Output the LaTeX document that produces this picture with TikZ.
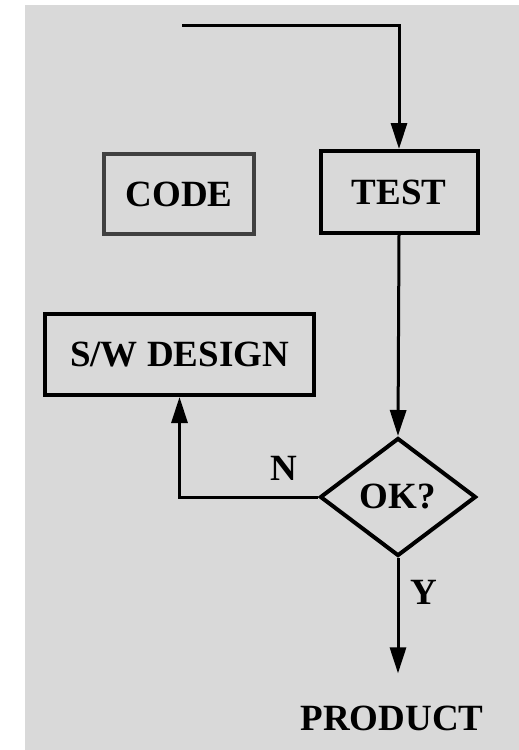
\documentclass[tikz,border=0pt]{standalone}
\usepackage{fontspec}
\setmainfont{Liberation Serif}
\usetikzlibrary{shapes.geometric,arrows.meta,positioning}

\begin{document}
\begin{tikzpicture}[
    x=1pt,
    y=-1pt,
    font=\fontsize{37}{40}\selectfont\bfseries,
    block/.style={
        rectangle,
        draw,
        line width=4pt,
        inner sep=0pt,
        text centered
    },
    decision/.style={
        diamond,
        draw,
        line width=4pt,
        inner sep=0pt,
        minimum width=156pt,
        minimum height=118pt
    },
    lbl/.style={
        inner sep=0pt
    },
    flow/.style={
        draw,
        line width=3pt,
        -{Triangle[length=26pt,width=16pt]}
    }
]

% Background
\useasboundingbox (0,0) rectangle (519,750);
\fill[gray!30] (25,5) rectangle (519,750);

% Nodes
\node [block, draw=black!75, minimum width=150pt, minimum height=80pt] (code) at (179,194) {CODE};
\node [block, minimum width=157pt, minimum height=82pt] (test) at (399,192) {TEST};
\node [block, minimum width=269pt, minimum height=81pt] (design) at (179.5,354.5) {S/W DESIGN};
\node [decision] (ok) at (398,497) {OK?};
\node [lbl] (product) at (392,718) {PRODUCT};
\coordinate (entry) at (182,25);

% Edges
\path [flow] (entry) -| (test.north);
\path [flow] (test.south) -- (ok.north);
\path [flow] (ok.west) -- node [lbl, above=15pt, pos=0.25] {N} (ok.west -| design.south) -- (design.south);
\path [flow, shorten >=32pt] (ok.south) -- node [lbl, right=11pt, pos=0.23] {Y} (ok.south |- product.north);

\end{tikzpicture}
\end{document}
